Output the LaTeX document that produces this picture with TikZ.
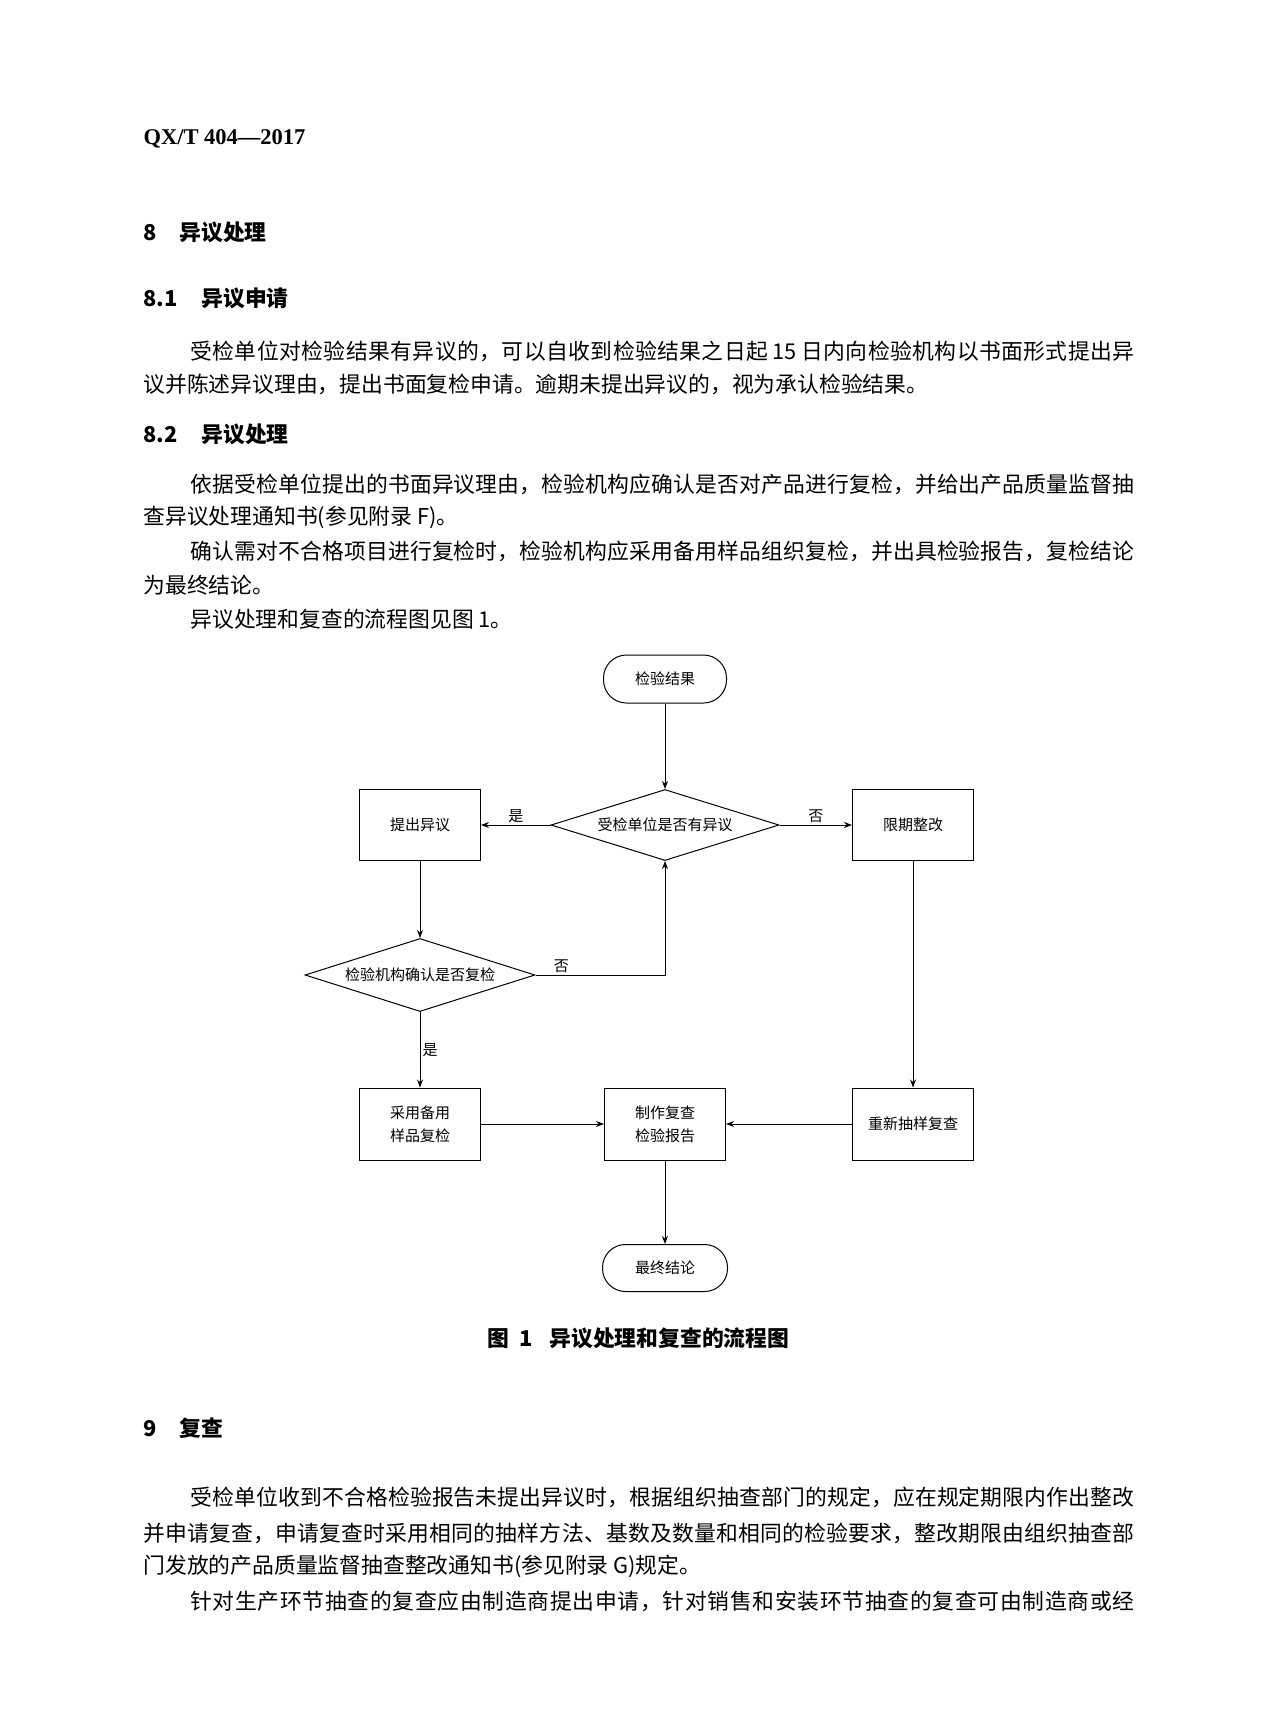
\documentclass[tikz,border=0pt]{standalone}
\usepackage{fontspec}
\setmainfont{Noto Sans CJK SC}
\newfontfamily\latinserif{Liberation Serif}
\usetikzlibrary{arrows.meta,shapes.geometric}
% spread the characters of a line over a given width
\def\spreadchars#1{#1\spreadaux}
\def\spreadaux#1{\ifx\relax#1\else\hskip 0pt plus 1fil\relax#1\expandafter\spreadaux\fi}
\newcommand{\fillline}[2]{\makebox[#1][s]{\spreadchars#2\relax}}

\begin{document}
\begin{tikzpicture}[x=1pt, y=-1pt, >={Stealth[length=8pt,width=6pt]}, line width=1pt,
   txt/.style={anchor=west, inner sep=0pt, font=\fontsize{21.8}{26}\selectfont},
   hd/.style={txt, font=\fontsize{21.8}{26}\selectfont\bfseries},
   box/.style={draw, minimum width=121pt, minimum height=71pt, align=center, inner sep=2pt, font=\fontsize{15}{23}\selectfont},
   term/.style={box, rounded corners=23pt, minimum width=123pt, minimum height=48pt},
   decision/.style={box, diamond, aspect=3.2, inner sep=0pt, minimum width=228pt, minimum height=71pt},
   lbl/.style={inner sep=2pt, font=\fontsize{15}{18}\selectfont}
   ]
   \useasboundingbox (0,0) rectangle (1280,1730);

   \path (143,139) node[txt, font=\fontsize{22.5}{26}\latinserif\bfseries] (code) {QX/T 404—2017}
   (143,232) node[hd] (sec8) {\makebox[36pt][l]{8}异议处理}
   (143,298) node[hd] (sec81) {\makebox[58pt][l]{8.1}异议申请};
   \path (190,351) node[txt] (p1a) {\fillline{944pt}{受检单位对检验结果有异议的，可以自收到检验结果之日起{\hspace{4pt}15\hspace{4pt}}日内向检验机构以书面形式提出异}}
   (143,384) node[txt] (p1b) {议并陈述异议理由，提出书面复检申请。逾期未提出异议的，视为承认检验结果。};
   \path (143,434) node[hd] (sec82) {\makebox[58pt][l]{8.2}异议处理}
   (190,484) node[txt] (p2a) {\fillline{944pt}{依据受检单位提出的书面异议理由，检验机构应确认是否对产品进行复检，并给出产品质量监督抽}}
   (143,517) node[txt] (p2b) {查异议处理通知书(参见附录 F)。}
   (190,551) node[txt] (p3a) {\fillline{944pt}{确认需对不合格项目进行复检时，检验机构应采用备用样品组织复检，并出具检验报告，复检结论}}
   (143,585) node[txt] (p3b) {为最终结论。}
   (190,619) node[txt] (p4) {异议处理和复查的流程图见图 1。};

   \path (665,679) node[term] (res) {检验结果}
   (665,825) node[decision] (q1) {受检单位是否有异议}
   (420,825) node[box] (raise) {提出异议}
   (913,825) node[box] (fix) {限期整改};
   \path (420,975) node[decision, minimum width=230pt, minimum height=73pt] (q2) {检验机构确认是否复检}
   (420,1124) node[box, minimum height=72pt] (spare) {采用备用\\样品复检}
   (665,1124) node[box, minimum height=72pt] (report) {制作复查\\检验报告}
   (913,1124) node[box, minimum height=72pt] (resample) {重新抽样复查}
   (665,1268) node[term, minimum width=125pt, minimum height=47pt] (final) {最终结论};

   \draw[->] (res) -- (q1);
   \draw[->] (q1) -- node[lbl, above] {是} (raise);
   \draw[->] (q1) -- node[lbl, above] {否} (fix);
   \draw[->] (raise) -- (q2);
   \draw[->] (q2) -| node[lbl, above, pos=0.1] {否} (q1);
   \draw[->] (q2) -- node[lbl, right] {是} (spare);
   \draw[->] (fix) -- (resample);
   \draw[->] (spare) -- (report);
   \draw[->] (resample) -- (report);
   \draw[->] (report) -- (final);

   \path (487,1338) node[hd] (cap) {图\hspace{10pt}1\hspace{17pt}异议处理和复查的流程图}
   (143,1428) node[hd] (sec9) {\makebox[36pt][l]{9}复查};
   \path (190,1497) node[txt] (p5a) {\fillline{944pt}{受检单位收到不合格检验报告未提出异议时，根据组织抽查部门的规定，应在规定期限内作出整改}}
   (143,1533) node[txt] (p5b) {\fillline{991pt}{并申请复查，申请复查时采用相同的抽样方法、基数及数量和相同的检验要求，整改期限由组织抽查部}}
   (143,1566) node[txt] (p5c) {门发放的产品质量监督抽查整改通知书(参见附录 G)规定。}
   (190,1601) node[txt] (p6a) {\fillline{944pt}{针对生产环节抽查的复查应由制造商提出申请，针对销售和安装环节抽查的复查可由制造商或经}};
\end{tikzpicture}
\end{document}
